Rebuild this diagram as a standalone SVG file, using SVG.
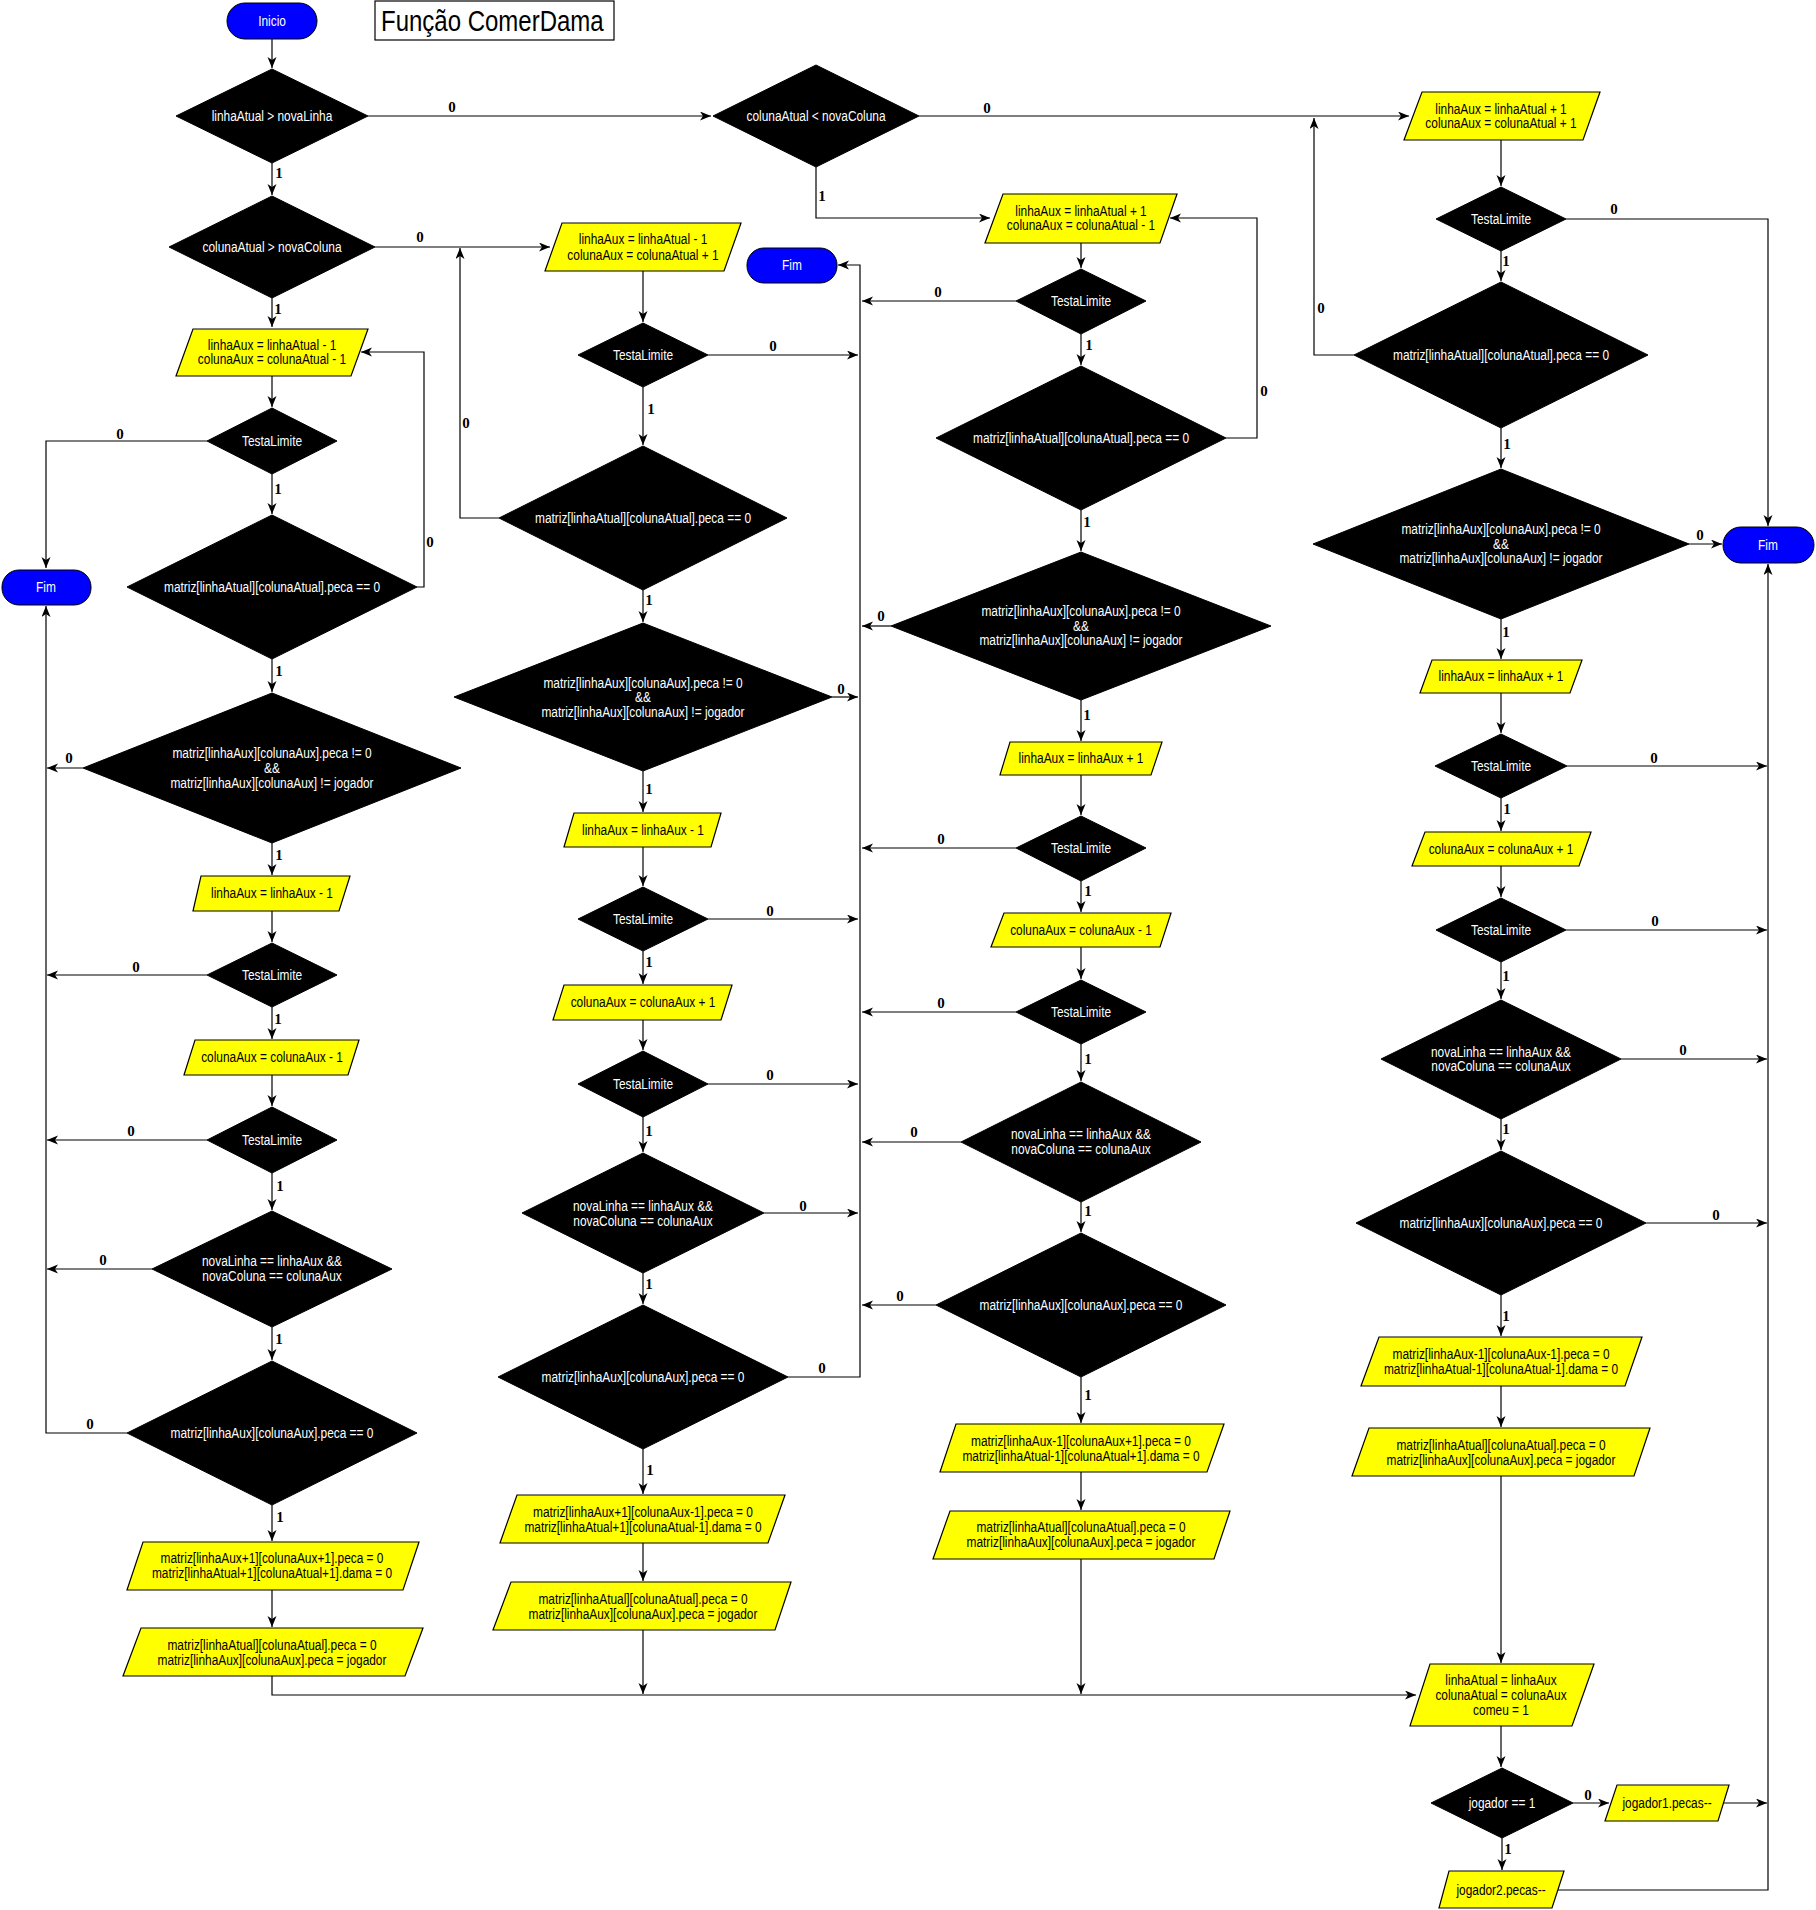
<svg xmlns="http://www.w3.org/2000/svg" width="1816" height="1910" viewBox="0 0 1816 1910">
<defs>
<marker id="ar" markerUnits="userSpaceOnUse" markerWidth="12" markerHeight="10" refX="11" refY="4.5" orient="auto">
<path d="M0,0 L11,4.5 L0,9 L3,4.5 Z" fill="#000"/>
</marker>
<style>
.dia{fill:#000;stroke:#000;stroke-width:1}
.par{fill:#ffff00;stroke:#000;stroke-width:1.2}
.term{fill:#0000ff;stroke:#000;stroke-width:1}
.tw{fill:#fff;font-family:'Liberation Sans',Arial,sans-serif;font-size:11.9px;text-anchor:middle}
.tb{fill:#000;font-family:'Liberation Sans',Arial,sans-serif;font-size:11.9px;text-anchor:middle}
.lbl{fill:#000;font-family:'Liberation Serif',serif;font-weight:bold;font-size:15px;text-anchor:middle}
.ln{fill:none;stroke:#000;stroke-width:1.2}
.la{fill:none;stroke:#000;stroke-width:1.2;marker-end:url(#ar)}
</style>
</defs>
<rect width="1816" height="1910" fill="#fff"/>

<g id="title"><rect x="375" y="1" width="239" height="39" fill="#fff" stroke="#000" stroke-width="1.2"/><text transform="translate(381,31) scale(1,1.2)" style="font-family:'Liberation Sans',Arial,sans-serif;font-size:24px;fill:#000">Função ComerDama</text></g>

<g id="connectors">
<path class="la" d="M272,39 V68"/>
<path class="la" d="M272,163 V195"/>
<path class="la" d="M368,116 H711"/>
<path class="la" d="M272,298 V327"/>
<path class="la" d="M375,247 H550"/>
<path class="la" d="M272,376 V407"/>
<path class="la" d="M272,474 V514"/>
<path class="la" d="M207,441 H46 V568"/>
<path class="la" d="M417,587 H424 V352 H361"/>
<path class="la" d="M272,659 V692"/>
<path class="la" d="M83,768 H47"/>
<path class="la" d="M272,843 V875"/>
<path class="la" d="M272,911 V942"/>
<path class="la" d="M207,975 H47"/>
<path class="la" d="M272,1007 V1039"/>
<path class="la" d="M272,1075 V1106"/>
<path class="la" d="M207,1140 H47"/>
<path class="la" d="M272,1173 V1210"/>
<path class="la" d="M152,1269 H47"/>
<path class="la" d="M272,1327 V1360"/>
<path class="la" d="M127,1433 H46 V606"/>
<path class="la" d="M272,1505 V1541"/>
<path class="la" d="M272,1590 V1627"/>
<path class="la" d="M272,1676 V1695 H1416"/>
<path class="la" d="M643,271 V322"/>
<path class="la" d="M708,355 H858"/>
<path class="la" d="M643,387 V445"/>
<path class="la" d="M499,518 H460 V248"/>
<path class="la" d="M643,590 V622"/>
<path class="la" d="M832,697 H858"/>
<path class="la" d="M643,771 V812"/>
<path class="la" d="M643,847 V886"/>
<path class="la" d="M708,919 H858"/>
<path class="la" d="M643,951 V984"/>
<path class="la" d="M643,1020 V1050"/>
<path class="la" d="M708,1084 H858"/>
<path class="la" d="M643,1117 V1152"/>
<path class="la" d="M764,1213 H858"/>
<path class="la" d="M643,1273 V1304"/>
<path class="la" d="M788,1377 H860 V265 H838"/>
<path class="la" d="M643,1449 V1494"/>
<path class="la" d="M643,1543 V1581"/>
<path class="la" d="M643,1630 V1694"/>
<path class="la" d="M919,116 H1409"/>
<path class="la" d="M816,167 V218 H990"/>
<path class="la" d="M1081,243 V268"/>
<path class="la" d="M1016,301 H862"/>
<path class="la" d="M1081,334 V365"/>
<path class="la" d="M1226,438 H1257 V218 H1170"/>
<path class="la" d="M1081,510 V551"/>
<path class="la" d="M891,626 H862"/>
<path class="la" d="M1081,700 V741"/>
<path class="la" d="M1081,775 V815"/>
<path class="la" d="M1016,848 H862"/>
<path class="la" d="M1081,881 V912"/>
<path class="la" d="M1081,947 V979"/>
<path class="la" d="M1016,1012 H862"/>
<path class="la" d="M1081,1044 V1081"/>
<path class="la" d="M961,1142 H862"/>
<path class="la" d="M1081,1202 V1232"/>
<path class="la" d="M936,1305 H862"/>
<path class="la" d="M1081,1377 V1423"/>
<path class="la" d="M1081,1472 V1510"/>
<path class="la" d="M1081,1559 V1694"/>
<path class="la" d="M1501,140 V186"/>
<path class="la" d="M1566,219 H1768 V526"/>
<path class="la" d="M1501,251 V281"/>
<path class="la" d="M1354,355 H1314 V118"/>
<path class="la" d="M1501,428 V468"/>
<path class="la" d="M1689,544 H1722"/>
<path class="la" d="M1501,619 V659"/>
<path class="la" d="M1501,693 V733"/>
<path class="la" d="M1567,766 H1767"/>
<path class="la" d="M1501,798 V831"/>
<path class="la" d="M1501,866 V897"/>
<path class="la" d="M1566,930 H1767"/>
<path class="la" d="M1501,962 V999"/>
<path class="la" d="M1621,1059 H1767"/>
<path class="la" d="M1501,1119 V1150"/>
<path class="la" d="M1646,1223 H1767"/>
<path class="la" d="M1501,1295 V1336"/>
<path class="la" d="M1501,1386 V1427"/>
<path class="la" d="M1501,1476 V1663"/>
<path class="la" d="M1501,1726 V1767"/>
<path class="la" d="M1573,1803 H1609"/>
<path class="la" d="M1723,1803 H1767"/>
<path class="la" d="M1502,1838 V1870"/>
<path class="la" d="M1558,1890 H1768 V564"/>
<g class="lbl">
<text x="452" y="112">0</text><text x="279" y="178">1</text><text x="420" y="242">0</text><text x="278" y="314">1</text>
<text x="120" y="439">0</text><text x="278" y="494">1</text><text x="430" y="547">0</text><text x="279" y="676">1</text>
<text x="69" y="763">0</text><text x="279" y="860">1</text><text x="136" y="972">0</text><text x="278" y="1024">1</text>
<text x="131" y="1136">0</text><text x="280" y="1191">1</text><text x="103" y="1265">0</text><text x="279" y="1344">1</text>
<text x="90" y="1429">0</text><text x="280" y="1522">1</text>
<text x="773" y="351">0</text><text x="651" y="414">1</text><text x="466" y="428">0</text><text x="649" y="605">1</text>
<text x="841" y="694">0</text><text x="649" y="794">1</text><text x="770" y="916">0</text><text x="649" y="967">1</text>
<text x="770" y="1080">0</text><text x="649" y="1136">1</text><text x="803" y="1211">0</text><text x="649" y="1289">1</text>
<text x="822" y="1373">0</text><text x="650" y="1475">1</text>
<text x="987" y="113">0</text><text x="822" y="201">1</text><text x="938" y="297">0</text><text x="1089" y="350">1</text>
<text x="1264" y="396">0</text><text x="1087" y="527">1</text><text x="881" y="621">0</text><text x="1087" y="720">1</text>
<text x="941" y="844">0</text><text x="1088" y="896">1</text><text x="941" y="1008">0</text><text x="1088" y="1064">1</text>
<text x="914" y="1137">0</text><text x="1088" y="1216">1</text><text x="900" y="1301">0</text><text x="1088" y="1400">1</text>
<text x="1614" y="214">0</text><text x="1506" y="266">1</text><text x="1321" y="313">0</text><text x="1507" y="449">1</text>
<text x="1700" y="540">0</text><text x="1506" y="637">1</text><text x="1654" y="763">0</text><text x="1507" y="814">1</text>
<text x="1655" y="926">0</text><text x="1506" y="981">1</text><text x="1683" y="1055">0</text><text x="1506" y="1134">1</text>
<text x="1716" y="1220">0</text><text x="1506" y="1321">1</text><text x="1588" y="1800">0</text><text x="1508" y="1854">1</text>
</g>
</g>

<g id="inicio"><rect class="term" x="227" y="3" width="90" height="36" rx="18"/><text class="tw" transform="translate(272,21) scale(1,1.2)" dy="0.35em">Inicio</text></g>
<g id="d1"><polygon class="dia" points="176,116 272,69 368,116 272,163"/><text class="tw" transform="translate(272,116) scale(1,1.2)" dy="0.35em">linhaAtual &gt; novaLinha</text></g>
<g id="d2"><polygon class="dia" points="169,247 272,196 375,247 272,298"/><text class="tw" transform="translate(272,247) scale(1,1.2)" dy="0.35em">colunaAtual &gt; novaColuna</text></g>
<g id="p1"><polygon class="par" points="193,329 368,329 351,376 176,376"/><text class="tb" transform="translate(272,345) scale(1,1.2)" dy="0.35em">linhaAux = linhaAtual - 1</text><text class="tb" transform="translate(272,359) scale(1,1.2)" dy="0.35em">colunaAux = colunaAtual - 1</text></g>
<g id="tl1"><polygon class="dia" points="207,441 272,408 337,441 272,474"/><text class="tw" transform="translate(272,441) scale(1,1.2)" dy="0.35em">TestaLimite</text></g>
<g id="fim1"><rect class="term" x="2" y="570" width="89" height="35" rx="17"/><text class="tw" transform="translate(46,587) scale(1,1.2)" dy="0.35em">Fim</text></g>
<g id="d3"><polygon class="dia" points="127,587 272,515 417,587 272,659"/><text class="tw" transform="translate(272,587) scale(1,1.2)" dy="0.35em">matriz[linhaAtual][colunaAtual].peca == 0</text></g>
<g id="d4"><polygon class="dia" points="83,768 272,693 461,768 272,843"/><text class="tw" transform="translate(272,753) scale(1,1.2)" dy="0.35em">matriz[linhaAux][colunaAux].peca != 0</text><text class="tw" transform="translate(272,768) scale(1,1.2)" dy="0.35em">&amp;&amp;</text><text class="tw" transform="translate(272,783) scale(1,1.2)" dy="0.35em">matriz[linhaAux][colunaAux] != jogador</text></g>
<g id="p5"><polygon class="par" points="201,876 350,876 339,911 193,911"/><text class="tb" transform="translate(272,893) scale(1,1.2)" dy="0.35em">linhaAux = linhaAux - 1</text></g>
<g id="tl2"><polygon class="dia" points="207,975 272,943 337,975 272,1007"/><text class="tw" transform="translate(272,975) scale(1,1.2)" dy="0.35em">TestaLimite</text></g>
<g id="p6"><polygon class="par" points="195,1040 359,1040 348,1075 184,1075"/><text class="tb" transform="translate(272,1057) scale(1,1.2)" dy="0.35em">colunaAux = colunaAux - 1</text></g>
<g id="tl3"><polygon class="dia" points="207,1140 272,1107 337,1140 272,1173"/><text class="tw" transform="translate(272,1140) scale(1,1.2)" dy="0.35em">TestaLimite</text></g>
<g id="d5"><polygon class="dia" points="152,1269 272,1211 392,1269 272,1327"/><text class="tw" transform="translate(272,1261) scale(1,1.2)" dy="0.35em">novaLinha == linhaAux &amp;&amp;</text><text class="tw" transform="translate(272,1276) scale(1,1.2)" dy="0.35em">novaColuna == colunaAux</text></g>
<g id="d6"><polygon class="dia" points="127,1433 272,1361 417,1433 272,1505"/><text class="tw" transform="translate(272,1433) scale(1,1.2)" dy="0.35em">matriz[linhaAux][colunaAux].peca == 0</text></g>
<g id="p7"><polygon class="par" points="143,1542 419,1542 403,1590 127,1590"/><text class="tb" transform="translate(272,1558) scale(1,1.2)" dy="0.35em">matriz[linhaAux+1][colunaAux+1].peca = 0</text><text class="tb" transform="translate(272,1573) scale(1,1.2)" dy="0.35em">matriz[linhaAtual+1][colunaAtual+1].dama = 0</text></g>
<g id="p8"><polygon class="par" points="141,1628 423,1628 405,1676 123,1676"/><text class="tb" transform="translate(272,1645) scale(1,1.2)" dy="0.35em">matriz[linhaAtual][colunaAtual].peca = 0</text><text class="tb" transform="translate(272,1660) scale(1,1.2)" dy="0.35em">matriz[linhaAux][colunaAux].peca = jogador</text></g>

<g id="p2"><polygon class="par" points="562,223 741,223 724,271 545,271"/><text class="tb" transform="translate(643,239) scale(1,1.2)" dy="0.35em">linhaAux = linhaAtual - 1</text><text class="tb" transform="translate(643,255) scale(1,1.2)" dy="0.35em">colunaAux = colunaAtual + 1</text></g>
<g id="fim2"><rect class="term" x="747" y="248" width="90" height="35" rx="17"/><text class="tw" transform="translate(792,265) scale(1,1.2)" dy="0.35em">Fim</text></g>
<g id="tl4"><polygon class="dia" points="578,355 643,323 708,355 643,387"/><text class="tw" transform="translate(643,355) scale(1,1.2)" dy="0.35em">TestaLimite</text></g>
<g id="d3b"><polygon class="dia" points="499,518 643,446 787,518 643,590"/><text class="tw" transform="translate(643,518) scale(1,1.2)" dy="0.35em">matriz[linhaAtual][colunaAtual].peca == 0</text></g>
<g id="d4b"><polygon class="dia" points="454,697 643,623 832,697 643,771"/><text class="tw" transform="translate(643,683) scale(1,1.2)" dy="0.35em">matriz[linhaAux][colunaAux].peca != 0</text><text class="tw" transform="translate(643,697) scale(1,1.2)" dy="0.35em">&amp;&amp;</text><text class="tw" transform="translate(643,712) scale(1,1.2)" dy="0.35em">matriz[linhaAux][colunaAux] != jogador</text></g>
<g id="p9"><polygon class="par" points="574,813 721,813 711,847 564,847"/><text class="tb" transform="translate(643,830) scale(1,1.2)" dy="0.35em">linhaAux = linhaAux - 1</text></g>
<g id="tl5"><polygon class="dia" points="578,919 643,887 708,919 643,951"/><text class="tw" transform="translate(643,919) scale(1,1.2)" dy="0.35em">TestaLimite</text></g>
<g id="p10"><polygon class="par" points="564,985 732,985 721,1020 553,1020"/><text class="tb" transform="translate(643,1002) scale(1,1.2)" dy="0.35em">colunaAux = colunaAux + 1</text></g>
<g id="tl6"><polygon class="dia" points="578,1084 643,1051 708,1084 643,1117"/><text class="tw" transform="translate(643,1084) scale(1,1.2)" dy="0.35em">TestaLimite</text></g>
<g id="d5b"><polygon class="dia" points="522,1213 643,1153 764,1213 643,1273"/><text class="tw" transform="translate(643,1206) scale(1,1.2)" dy="0.35em">novaLinha == linhaAux &amp;&amp;</text><text class="tw" transform="translate(643,1221) scale(1,1.2)" dy="0.35em">novaColuna == colunaAux</text></g>
<g id="d6b"><polygon class="dia" points="498,1377 643,1305 788,1377 643,1449"/><text class="tw" transform="translate(643,1377) scale(1,1.2)" dy="0.35em">matriz[linhaAux][colunaAux].peca == 0</text></g>
<g id="p11"><polygon class="par" points="517,1495 785,1495 768,1543 500,1543"/><text class="tb" transform="translate(643,1512) scale(1,1.2)" dy="0.35em">matriz[linhaAux+1][colunaAux-1].peca = 0</text><text class="tb" transform="translate(643,1527) scale(1,1.2)" dy="0.35em">matriz[linhaAtual+1][colunaAtual-1].dama = 0</text></g>
<g id="p12"><polygon class="par" points="511,1582 791,1582 775,1630 493,1630"/><text class="tb" transform="translate(643,1599) scale(1,1.2)" dy="0.35em">matriz[linhaAtual][colunaAtual].peca = 0</text><text class="tb" transform="translate(643,1614) scale(1,1.2)" dy="0.35em">matriz[linhaAux][colunaAux].peca = jogador</text></g>

<g id="d1b"><polygon class="dia" points="713,116 816,65 919,116 816,167"/><text class="tw" transform="translate(816,116) scale(1,1.2)" dy="0.35em">colunaAtual &lt; novaColuna</text></g>
<g id="p3"><polygon class="par" points="1003,194 1177,194 1160,243 985,243"/><text class="tb" transform="translate(1081,211) scale(1,1.2)" dy="0.35em">linhaAux = linhaAtual + 1</text><text class="tb" transform="translate(1081,225) scale(1,1.2)" dy="0.35em">colunaAux = colunaAtual - 1</text></g>
<g id="tl7"><polygon class="dia" points="1016,301 1081,269 1146,301 1081,334"/><text class="tw" transform="translate(1081,301) scale(1,1.2)" dy="0.35em">TestaLimite</text></g>
<g id="d3c"><polygon class="dia" points="936,438 1081,366 1226,438 1081,510"/><text class="tw" transform="translate(1081,438) scale(1,1.2)" dy="0.35em">matriz[linhaAtual][colunaAtual].peca == 0</text></g>
<g id="d4c"><polygon class="dia" points="891,626 1081,552 1271,626 1081,700"/><text class="tw" transform="translate(1081,611) scale(1,1.2)" dy="0.35em">matriz[linhaAux][colunaAux].peca != 0</text><text class="tw" transform="translate(1081,626) scale(1,1.2)" dy="0.35em">&amp;&amp;</text><text class="tw" transform="translate(1081,640) scale(1,1.2)" dy="0.35em">matriz[linhaAux][colunaAux] != jogador</text></g>
<g id="p13"><polygon class="par" points="1010,742 1162,742 1151,775 1000,775"/><text class="tb" transform="translate(1081,758) scale(1,1.2)" dy="0.35em">linhaAux = linhaAux + 1</text></g>
<g id="tl8"><polygon class="dia" points="1016,848 1081,816 1146,848 1081,881"/><text class="tw" transform="translate(1081,848) scale(1,1.2)" dy="0.35em">TestaLimite</text></g>
<g id="p14"><polygon class="par" points="1004,913 1171,913 1160,947 991,947"/><text class="tb" transform="translate(1081,930) scale(1,1.2)" dy="0.35em">colunaAux = colunaAux - 1</text></g>
<g id="tl9"><polygon class="dia" points="1016,1012 1081,980 1146,1012 1081,1044"/><text class="tw" transform="translate(1081,1012) scale(1,1.2)" dy="0.35em">TestaLimite</text></g>
<g id="d5c"><polygon class="dia" points="961,1142 1081,1082 1201,1142 1081,1202"/><text class="tw" transform="translate(1081,1134) scale(1,1.2)" dy="0.35em">novaLinha == linhaAux &amp;&amp;</text><text class="tw" transform="translate(1081,1149) scale(1,1.2)" dy="0.35em">novaColuna == colunaAux</text></g>
<g id="d6c"><polygon class="dia" points="936,1305 1081,1233 1226,1305 1081,1377"/><text class="tw" transform="translate(1081,1305) scale(1,1.2)" dy="0.35em">matriz[linhaAux][colunaAux].peca == 0</text></g>
<g id="p15"><polygon class="par" points="956,1424 1224,1424 1207,1472 940,1472"/><text class="tb" transform="translate(1081,1441) scale(1,1.2)" dy="0.35em">matriz[linhaAux-1][colunaAux+1].peca = 0</text><text class="tb" transform="translate(1081,1456) scale(1,1.2)" dy="0.35em">matriz[linhaAtual-1][colunaAtual+1].dama = 0</text></g>
<g id="p16"><polygon class="par" points="950,1511 1230,1511 1214,1559 933,1559"/><text class="tb" transform="translate(1081,1527) scale(1,1.2)" dy="0.35em">matriz[linhaAtual][colunaAtual].peca = 0</text><text class="tb" transform="translate(1081,1542) scale(1,1.2)" dy="0.35em">matriz[linhaAux][colunaAux].peca = jogador</text></g>

<g id="p4"><polygon class="par" points="1422,92 1600,92 1583,140 1404,140"/><text class="tb" transform="translate(1501,109) scale(1,1.2)" dy="0.35em">linhaAux = linhaAtual + 1</text><text class="tb" transform="translate(1501,123) scale(1,1.2)" dy="0.35em">colunaAux = colunaAtual + 1</text></g>
<g id="tl10"><polygon class="dia" points="1436,219 1501,187 1566,219 1501,251"/><text class="tw" transform="translate(1501,219) scale(1,1.2)" dy="0.35em">TestaLimite</text></g>
<g id="d3d"><polygon class="dia" points="1354,355 1501,282 1648,355 1501,428"/><text class="tw" transform="translate(1501,355) scale(1,1.2)" dy="0.35em">matriz[linhaAtual][colunaAtual].peca == 0</text></g>
<g id="d4d"><polygon class="dia" points="1313,544 1501,469 1689,544 1501,619"/><text class="tw" transform="translate(1501,529) scale(1,1.2)" dy="0.35em">matriz[linhaAux][colunaAux].peca != 0</text><text class="tw" transform="translate(1501,544) scale(1,1.2)" dy="0.35em">&amp;&amp;</text><text class="tw" transform="translate(1501,558) scale(1,1.2)" dy="0.35em">matriz[linhaAux][colunaAux] != jogador</text></g>
<g id="fim3"><rect class="term" x="1723" y="527" width="91" height="36" rx="18"/><text class="tw" transform="translate(1768,545) scale(1,1.2)" dy="0.35em">Fim</text></g>
<g id="p17"><polygon class="par" points="1432,660 1582,660 1570,693 1420,693"/><text class="tb" transform="translate(1501,676) scale(1,1.2)" dy="0.35em">linhaAux = linhaAux + 1</text></g>
<g id="tl11"><polygon class="dia" points="1435,766 1501,734 1567,766 1501,798"/><text class="tw" transform="translate(1501,766) scale(1,1.2)" dy="0.35em">TestaLimite</text></g>
<g id="p18"><polygon class="par" points="1425,832 1591,832 1579,866 1412,866"/><text class="tb" transform="translate(1501,849) scale(1,1.2)" dy="0.35em">colunaAux = colunaAux + 1</text></g>
<g id="tl12"><polygon class="dia" points="1436,930 1501,898 1566,930 1501,962"/><text class="tw" transform="translate(1501,930) scale(1,1.2)" dy="0.35em">TestaLimite</text></g>
<g id="d5d"><polygon class="dia" points="1381,1059 1501,1000 1621,1059 1501,1119"/><text class="tw" transform="translate(1501,1052) scale(1,1.2)" dy="0.35em">novaLinha == linhaAux &amp;&amp;</text><text class="tw" transform="translate(1501,1066) scale(1,1.2)" dy="0.35em">novaColuna == colunaAux</text></g>
<g id="d6d"><polygon class="dia" points="1356,1223 1501,1151 1646,1223 1501,1295"/><text class="tw" transform="translate(1501,1223) scale(1,1.2)" dy="0.35em">matriz[linhaAux][colunaAux].peca == 0</text></g>
<g id="p19"><polygon class="par" points="1379,1337 1642,1337 1625,1386 1361,1386"/><text class="tb" transform="translate(1501,1354) scale(1,1.2)" dy="0.35em">matriz[linhaAux-1][colunaAux-1].peca = 0</text><text class="tb" transform="translate(1501,1369) scale(1,1.2)" dy="0.35em">matriz[linhaAtual-1][colunaAtual-1].dama = 0</text></g>
<g id="p20"><polygon class="par" points="1369,1428 1650,1428 1634,1476 1352,1476"/><text class="tb" transform="translate(1501,1445) scale(1,1.2)" dy="0.35em">matriz[linhaAtual][colunaAtual].peca = 0</text><text class="tb" transform="translate(1501,1460) scale(1,1.2)" dy="0.35em">matriz[linhaAux][colunaAux].peca = jogador</text></g>
<g id="pf"><polygon class="par" points="1430,1664 1594,1664 1572,1726 1410,1726"/><text class="tb" transform="translate(1501,1680) scale(1,1.2)" dy="0.35em">linhaAtual = linhaAux</text><text class="tb" transform="translate(1501,1695) scale(1,1.2)" dy="0.35em">colunaAtual = colunaAux</text><text class="tb" transform="translate(1501,1710) scale(1,1.2)" dy="0.35em">comeu = 1</text></g>
<g id="dj"><polygon class="dia" points="1431,1803 1502,1768 1573,1803 1502,1838"/><text class="tw" transform="translate(1502,1803) scale(1,1.2)" dy="0.35em">jogador == 1</text></g>
<g id="pj1"><polygon class="par" points="1617,1785 1729,1785 1718,1821 1605,1821"/><text class="tb" transform="translate(1667,1803) scale(1,1.2)" dy="0.35em">jogador1.pecas--</text></g>
<g id="pj2"><polygon class="par" points="1449,1871 1564,1871 1552,1908 1439,1908"/><text class="tb" transform="translate(1501,1890) scale(1,1.2)" dy="0.35em">jogador2.pecas--</text></g>
</svg>
